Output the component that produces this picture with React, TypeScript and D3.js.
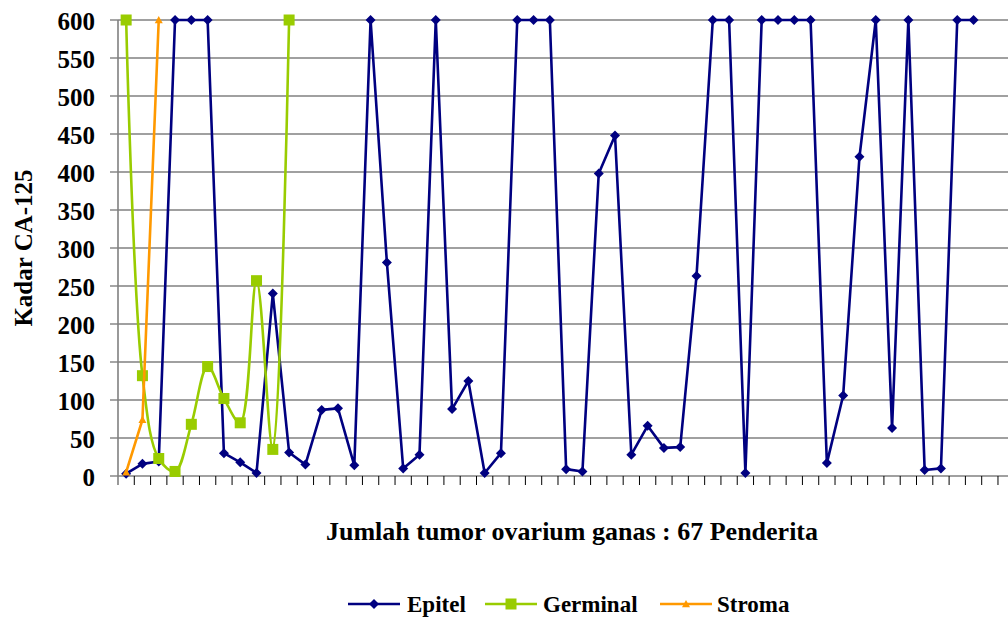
import React from "react";
import * as d3 from "d3";

const epitel: number[] = [
  3, 16, 19, 600, 600, 600, 30, 18, 4, 240,
  31, 15, 87, 89, 14, 600, 281, 10, 28, 600,
  88, 125, 4, 30, 600, 600, 600, 9, 6, 398,
  448, 28, 66, 37, 38, 263, 600, 600, 4, 600,
  600, 600, 600, 17, 106, 420, 600, 63, 600, 8,
  10, 600, 600,
];
const germinal: number[] = [600, 132, 23, 6, 68, 144, 102, 70, 257, 35, 600];
const stroma: number[] = [5, 74, 600];

const categoryCount = 55;
const categories: number[] = d3.range(1, categoryCount + 1);
const yTicks: number[] = [0, 50, 100, 150, 200, 250, 300, 350, 400, 450, 500, 550, 600];

const seriesNames = ["Epitel", "Germinal", "Stroma"];
const seriesColors = ["#000080", "#99CC00", "#FF9900"];

const W = 1008;
const H = 618;
const left = 118;
const band = 16.296;
const top = 20;
const bottom = 476;
const FONT = "'Liberation Serif', 'Times New Roman', serif";

function Marker({ kind, x, y, color }: { kind: number; x: number; y: number; color: string }) {
  if (kind === 0) {
    const s = 5;
    return <path d={`M${x},${y - s}L${x + s},${y}L${x},${y + s}L${x - s},${y}Z`} fill={color} />;
  }
  if (kind === 1) {
    const s = 5.5;
    return <rect x={x - s} y={y - s} width={2 * s} height={2 * s} fill={color} />;
  }
  const s = 4;
  return <path d={`M${x},${y - s}L${x + s},${y + s * 0.8}L${x - s},${y + s * 0.8}Z`} fill={color} />;
}

export default function App() {
  const x = d3
    .scaleBand<number>()
    .domain(categories)
    .range([left, left + band * categoryCount])
    .paddingInner(0)
    .paddingOuter(0);
  const y = d3.scaleLinear().domain([0, 600]).range([bottom, top]);
  const cx = (i: number) => (x(categories[i]) as number) + x.bandwidth() / 2;

  const linear = d3
    .line<number>()
    .x((_, i) => cx(i))
    .y((d) => y(d));
  const smooth = d3
    .line<number>()
    .x((_, i) => cx(i))
    .y((d) => y(d))
    .curve(d3.curveCatmullRom.alpha(0.5));

  const series = [
    { data: epitel, path: linear(epitel) },
    { data: germinal, path: smooth(germinal) },
    { data: stroma, path: linear(stroma) },
  ];

  const legendItems = [
    { lx: 348, tx: 407 },
    { lx: 485, tx: 543 },
    { lx: 660, tx: 717 },
  ];

  return (
    <svg
      width={W}
      height={H}
      style={{ position: "fixed", left: 0, top: 0, background: "#fff" }}
      fontFamily={FONT}
      fontWeight="bold"
    >
      <rect x={0} y={0} width={W} height={H} fill="#fff" />
      {yTicks.map((t) => (
        <g key={t}>
          <line x1={left} x2={W} y1={y(t)} y2={y(t)} stroke="#808080" strokeWidth={1.6} />
          <line x1={left - 8} x2={left} y1={y(t)} y2={y(t)} stroke="#808080" strokeWidth={1.4} />
          <text x={95} y={y(t) + 9.5} textAnchor="end" fontSize={25} fill="#000">
            {t}
          </text>
        </g>
      ))}
      <line x1={left} x2={left} y1={top} y2={bottom + 9} stroke="#808080" strokeWidth={1.6} />
      {categories.map((c) => (
        <line
          key={c}
          x1={(x(c) as number) + band}
          x2={(x(c) as number) + band}
          y1={bottom}
          y2={bottom + 9}
          stroke="#000"
          strokeWidth={1}
        />
      ))}
      {series.map((s, k) => (
        <g key={k}>
          <path d={s.path || ""} fill="none" stroke={seriesColors[k]} strokeWidth={2.6} strokeLinejoin="round" />
          {s.data.map((v, i) => (
            <Marker key={i} kind={k} x={cx(i)} y={y(v)} color={seriesColors[k]} />
          ))}
        </g>
      ))}
      <text
        transform={`translate(32,${(top + bottom) / 2}) rotate(-90)`}
        textAnchor="middle"
        fontSize={25}
        fill="#000"
      >
        Kadar CA-125
      </text>
      <text x={572} y={540} textAnchor="middle" fontSize={26} fill="#000">
        Jumlah tumor ovarium ganas : 67 Penderita
      </text>
      {legendItems.map((it, k) => (
        <g key={k}>
          <line x1={it.lx} x2={it.lx + 52} y1={604} y2={604} stroke={seriesColors[k]} strokeWidth={2.6} />
          <Marker kind={k} x={it.lx + 26} y={604} color={seriesColors[k]} />
          <text x={it.tx} y={612} fontSize={23} fill="#000">
            {seriesNames[k]}
          </text>
        </g>
      ))}
    </svg>
  );
}
